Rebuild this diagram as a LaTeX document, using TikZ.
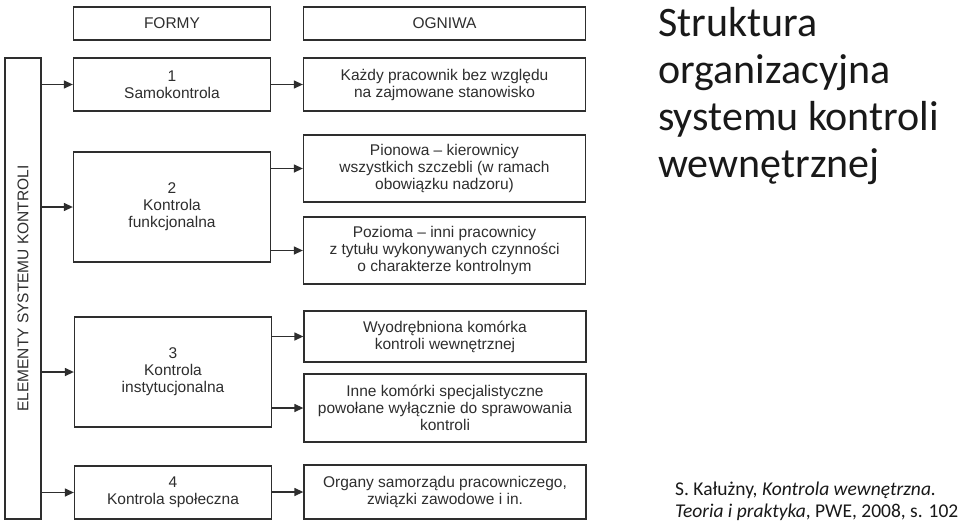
\documentclass[tikz,border=0pt]{standalone}
\usepackage{fontspec}
\setmainfont{Liberation Sans}
\newfontfamily\slidefont{Carlito}
\usetikzlibrary{arrows.meta}
\usepackage{xcolor}
\definecolor{scan}{HTML}{2E2E2E}

\begin{document}
\begin{tikzpicture}[x=1pt,y=-1pt,
    box/.style={draw=scan,line width=1.3pt,inner sep=0pt,align=center,text=scan,
      font=\fontsize{15.5}{17}\selectfont},
    forma/.style={box,minimum width=197pt},
    ogniwo/.style={box,minimum width=282pt},
    strzalka/.style={-{Triangle[length=9pt,width=8pt]},scan,line width=1.3pt}]
  \useasboundingbox[fill=white] (0,0) rectangle (960,527);

  \node[box,minimum width=461pt,minimum height=36pt,rotate=90] (elem) at (23,288.5) {ELEMENTY SYSTEMU KONTROLI};

  \node[forma,minimum height=33pt] (formy) at (172,23.5) {FORMY};
  \node[ogniwo,minimum height=33pt] (ogniwa) at (444.5,23.5) {OGNIWA};

  \node[forma,minimum height=53pt] (f1) at (172,84.5) {1\\Samokontrola};
  \node[forma,minimum height=110pt] (f2) at (172,207) {2\\Kontrola\\funkcjonalna};
  \node[forma,minimum height=110pt] (f3) at (173,372) {3\\Kontrola\\instytucjonalna};
  \node[forma,minimum height=53pt] (f4) at (173,492.5) {4\\Kontrola społeczna};

  \node[ogniwo,minimum height=53pt] (o1) at (444.5,84.5) {Każdy pracownik bez względu\\na zajmowane stanowisko};
  \node[ogniwo,minimum height=67pt] (o2) at (444.5,168.5) {Pionowa -- kierownicy\\wszystkich szczebli (w ramach\\obowiązku nadzoru)};
  \node[ogniwo,minimum height=67pt] (o3) at (444.5,250.5) {Pozioma -- inni pracownicy\\z tytułu wykonywanych czynności\\o charakterze kontrolnym};
  \node[ogniwo,minimum height=51pt] (o4) at (445,336.5) {Wyodrębniona komórka\\kontroli wewnętrznej};
  \node[ogniwo,minimum height=68pt] (o5) at (445,408) {Inne komórki specjalistyczne\\powołane wyłącznie do sprawowania\\kontroli};
  \node[ogniwo,minimum height=54pt] (o6) at (445,492) {Organy samorządu pracowniczego,\\związki zawodowe i in.};

  \path[strzalka]
    (elem.south |- f1) edge (f1.west)
    (elem.south |- f2) edge (f2.west)
    (elem.south |- f3) edge (f3.west)
    (elem.south |- f4) edge (f4.west)

    (f1.east |- o1) edge (o1.west)
    (f2.east |- o2) edge (o2.west)
    (f2.east |- o3) edge (o3.west)
    (f3.east |- o4) edge (o4.west)
    (f3.east |- o5) edge (o5.west)
    (f4.east |- o6) edge (o6.west)
    ;

  % tytul i zrodlo (base = ostatni wiersz)
  \node[anchor=base west,align=left,inner sep=0pt,text=black!90,
    font=\slidefont\fontsize{42}{47}\selectfont] (tytul) at (658,177)
    {Struktura\\organizacyjna\\systemu kontroli\\wewnętrznej};
  \node[anchor=base west,align=left,inner sep=0pt,text=black!90,
    font=\slidefont\fontsize{19.5}{22}\selectfont] (zrodlo) at (675,517)
    {S. Kałużny, \textit{Kontrola wewnętrzna.}\\\textit{Teoria i praktyka}, PWE, 2008, s. 102};
\end{tikzpicture}
\end{document}
